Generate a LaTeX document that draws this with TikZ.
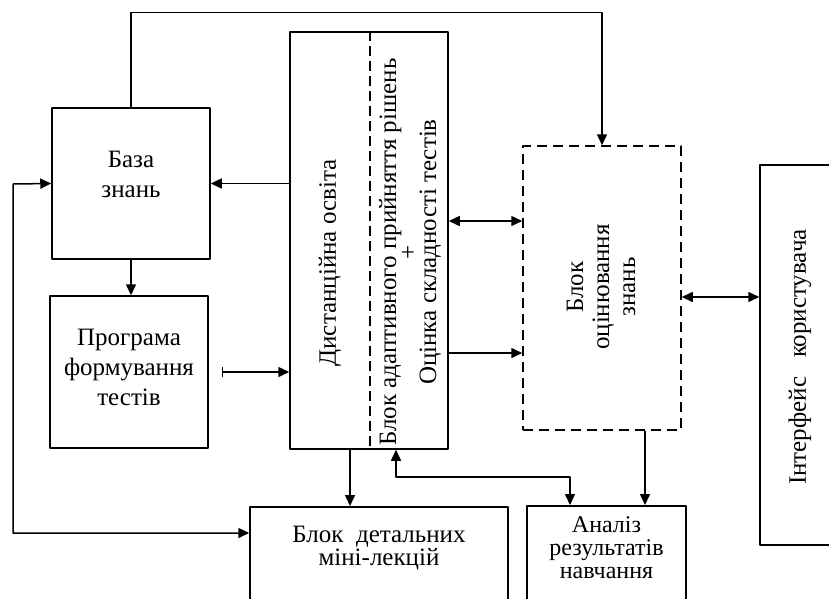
\documentclass[tikz,border=0pt]{standalone}
\usepackage{fontspec}
\setmainfont{Liberation Serif}
\usetikzlibrary{arrows.meta}
\begin{document}
\begin{tikzpicture}[x=1pt, y=-1pt, line join=round, line width=1.5pt, >={Triangle[length=11pt,width=10pt]},
	blok/.style={draw, rectangle, inner sep=0pt, align=center},
	blokd/.style={blok, dash pattern=on 10pt off 6pt},
	napys/.style={rotate=90, align=center},
	font=\fontsize{25}{30}\selectfont]
	\useasboundingbox (0,0) rectangle (829,598);
	\node[blok, minimum width=158, minimum height=151] (baza) at (131,183.5) {База\\знань\\[-12pt]};
	\node[blok, minimum width=158, minimum height=152] (prog) at (129,372) {Програма\\формування\\тестів\\[-21pt]};
	\node[blok, minimum width=158, minimum height=417] (dist) at (369,240.5) {};
	\node[blokd, minimum width=158, minimum height=284] (otsin) at (602,288) {};
	\node[blok, minimum width=80, minimum height=380] (interf) at (800,355) {};
	\node[blok, anchor=north, inner ysep=19pt] (lekts) at (379,506) {\parbox[t][100pt][t]{258pt}{\centering\fontsize{25}{23}\selectfont Блок~~детальних\\міні-лекцій}};
	\node[blok, anchor=north, inner ysep=11pt] (analiz) at (606.5,505) {\parbox[t][100pt][t]{159pt}{\centering\fontsize{24}{23}\selectfont Аналіз\\результатів\\навчання}};
	\draw[dash pattern=on 10pt off 5pt] (dist.north -| 370,0) -- (dist.south -| 370,0);
	\node[napys] (distt) at (330,263) {Дистанційна освіта};
	\node[napys, font=\fontsize{25}{20}\selectfont] (adapt) at (410,252) {Блок адаптивного прийняття рішень\\+\\Оцінка складності тестів};
	\node[napys, font=\fontsize{25}{26}\selectfont] (otsint) at (601,287) {Блок\\оцінювання\\знань};
	\node[napys] (interft) at (800,357) {Інтерфейс~~~користувача};
	\draw[->] (baza.north) -- ++(0,-95) -| (otsin.north);
	\draw[->] (dist.west |- baza.east) -- (baza.east);
	\draw[->] (baza.south) -- (baza.south |- prog.north);
	\draw[{Bar[width=10pt]}->] ([xshift=13pt]prog.east) -- (prog.east -| dist.west);
	\draw[<->] (dist.east |- 0,221) -- (otsin.west |- 0,221);
	\draw[->] (dist.east |- 0,353) -- (otsin.west |- 0,353);
	\draw[<->] (otsin.east |- 0,297) -- (interf.west |- 0,297);
	\draw[->] (otsin.south -| 645,0) -- (analiz.north -| 645,0);
	\draw[->] (dist.south -| 350,0) -- (lekts.north -| 350,0);
	\draw[<->] (dist.south -| 396,0) |- (570,477) -- (analiz.north -| 570,0);
	\draw[<->] (lekts.west |- 0,533) -| (13,184) -- (baza.west);
\end{tikzpicture}
\end{document}
